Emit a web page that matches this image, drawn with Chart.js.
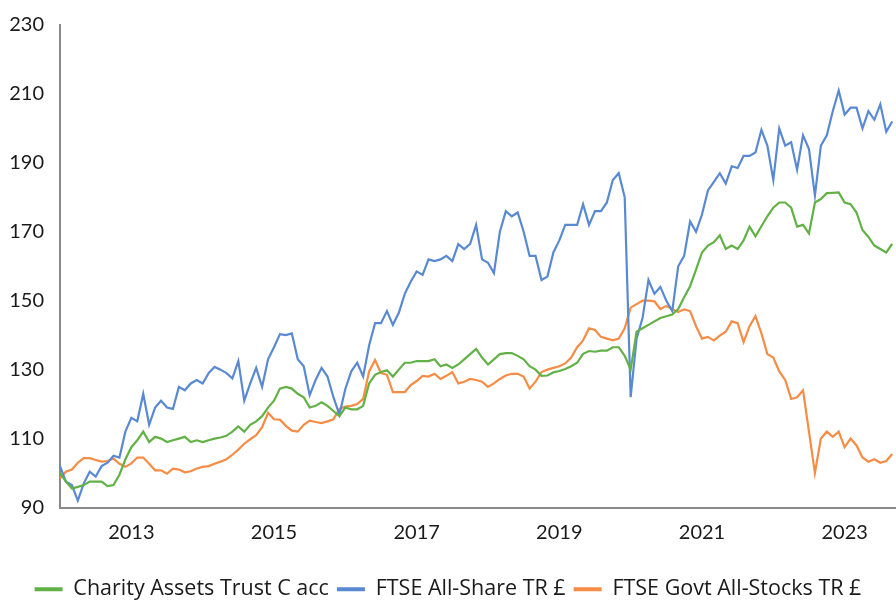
<!DOCTYPE html>
<html>
<head>
<meta charset="utf-8">
<script src="https://cdn.jsdelivr.net/npm/chart.js@4.4.0/dist/chart.umd.min.js"></script>
<style>
  html, body { margin: 0; padding: 0; background: #fff; }
  #wrap { width: 896px; height: 601px; }
</style>
</head>
<body>
<div id="wrap"><canvas id="miGrafica" width="896" height="601"></canvas></div>
<script>
// monthly series, Jan 2012 onwards
var startYear = 2012;

var seriesNames = ['Charity Assets Trust C acc', 'FTSE All-Share TR £', 'FTSE Govt All-Stocks TR £'];
var seriesColors = ['#62b146', '#5a89d4', '#f68c45'];

var charity = [
  100, 97.5, 95.5, 96, 96.5, 97.5, 97.5, 97.5, 96.2, 96.5, 99.5, 104,
  107.5, 109.5, 112, 109, 110.5, 110, 109, 109.5, 110, 110.5, 109, 109.5,
  109, 109.5, 110, 110.3, 110.8, 112, 113.5, 112, 114, 115, 116.5, 119,
  121, 124.5, 125, 124.5, 123, 122, 119, 119.5, 120.5, 119.5, 118, 116.5,
  119, 118.5, 118.5, 119.5, 126, 128.5, 129.3, 129.8, 128, 130, 132, 132,
  132.5, 132.5, 132.5, 133, 131, 131.5, 130.5, 131.5, 133, 134.5, 136, 133.5,
  131.5, 133, 134.5, 134.8, 134.8, 134, 133, 131, 130, 128.2, 128.3, 129.2,
  129.6, 130.2, 131, 132, 134.6, 135.4, 135.2, 135.5, 135.5, 136.5, 136.5, 134,
  130, 141, 142, 143, 144, 145, 145.5, 146, 147.6, 151, 154.2, 159,
  164, 166, 167, 169, 165, 166, 165, 167.5, 171.5, 168.7, 171.6, 174.5,
  177, 178.5, 178.5, 177, 171.5, 172, 169.5, 178.5, 179.5, 181.2, 181.3, 181.4,
  178.5, 178, 175.6, 170.5, 168.5, 166, 165, 164, 166.5
];

var allShare = [
  102, 97.5, 96.5, 92, 97, 100.4, 99, 102, 103, 105, 104.5, 112,
  116, 115, 123, 114, 119, 121, 119, 118.6, 125, 124, 126, 127,
  126, 129, 130.8, 130, 129, 127.5, 132.5, 121, 126, 130.5, 125, 133,
  136.5, 140.3, 140, 140.5, 133, 131, 122.6, 127, 130.5, 128, 122, 117,
  124.4, 129.5, 132, 128, 137, 143.5, 143.5, 147, 143, 146.5, 152, 155.5,
  158.5, 157.5, 162, 161.5, 162, 163, 161.5, 166.4, 165, 166.5, 172, 162,
  161, 158, 170, 176, 174.5, 175.6, 170, 163, 163, 156, 157, 164,
  167.5, 172, 172, 172, 178, 172, 176, 176, 178.5, 185, 187, 180,
  122, 139, 145, 156, 152, 154, 150, 147, 160, 163, 173, 170,
  175, 182, 184.5, 187, 184, 189, 188.5, 192, 192, 193, 199.6, 195,
  185, 200, 195, 196, 188, 198, 194, 180.5, 195, 198, 205, 211,
  204, 206, 206, 200, 205, 202.5, 207, 199, 202
];

var govtStocks = [
  98.5, 100.4, 101, 103, 104.3, 104.3, 103.8, 103.3, 103.5, 104.2, 102.7, 101.8,
  102.8, 104.5, 104.5, 102.7, 100.8, 100.8, 99.8, 101.3, 101, 100.2, 100.5, 101.3,
  101.8, 102, 102.7, 103.3, 104, 105.3, 106.8, 108.5, 109.8, 111, 113.3, 117.5,
  115.6, 115.5, 113.7, 112.3, 112, 114, 115.2, 114.8, 114.5, 115, 115.6, 118.6,
  119.3, 119.5, 120, 121.5, 129.5, 132.8, 129, 128.5, 123.5, 123.5, 123.5, 125.5,
  126.7, 128.2, 128, 128.8, 127.3, 128.2, 129.3, 126, 126.5, 127.3, 127, 126.5,
  125, 126, 127.3, 128.3, 128.8, 128.8, 128, 124.5, 126.5, 129.3, 130, 130.5,
  131, 131.8, 133.5, 136.5, 138.5, 142, 141.5, 139.5, 139, 138.5, 139, 142,
  148, 149, 150, 150, 149.8, 147.6, 148.5, 147.5, 146.7, 147.5, 147, 142.6,
  139, 139.5, 138.5, 139.9, 141, 144, 143.5, 138, 142.6, 145.5, 140.5, 134.5,
  133.5, 129.5, 127, 121.5, 122, 124, 112, 100, 110, 112, 110.5, 112,
  107.5, 110, 108, 104.5, 103.3, 104, 103, 103.5, 105.5
];

var yearTicks = [2013, 2015, 2017, 2019, 2021, 2023];
var valueTicks = [90, 110, 130, 150, 170, 190, 210, 230];

function toPoints(values) {
  return values.map(function (v, i) { return { x: startYear + i / 12, y: v }; });
}

var allSeries = [charity, allShare, govtStocks];
var datasets = allSeries.map(function (vals, k) {
  return {
    label: seriesNames[k],
    data: toPoints(vals),
    borderColor: seriesColors[k],
    backgroundColor: seriesColors[k],
    borderWidth: 2.2,
    pointRadius: 0,
    tension: 0,
    fill: false
  };
});

var fuente = "Lato, 'Noto Sans', sans-serif";
var fuenteLeyenda = "'Open Sans', 'Noto Sans', sans-serif";
var axisGrey = '#8a8a8a';

var ctx = document.getElementById('miGrafica').getContext('2d');
var chart = new Chart(ctx, {
  type: 'line',
  data: { datasets: datasets },
  options: {
    responsive: false,
    animation: false,
    layout: { padding: { top: 25, bottom: -9, left: 0, right: 0 } },
    scales: {
      x: {
        type: 'linear',
        min: 2012,
        max: 2023.72,
        grid: { display: false, drawTicks: false, tickLength: 0 },
        border: { display: true, color: axisGrey, width: 2 },
        afterBuildTicks: function (scale) {
          scale.ticks = yearTicks.map(function (v) { return { value: v }; });
        },
        afterFit: function (scale) {
          scale.height = 63;
          scale.paddingLeft = 0;
          scale.paddingRight = 0;
        },
        ticks: {
          autoSkip: false,
          maxRotation: 0,
          padding: 13,
          color: '#1a1a1a',
          font: { family: fuente, size: 20 },
          callback: function (v) { return String(v); }
        }
      },
      y: {
        min: 90,
        max: 230,
        grid: { display: false, drawTicks: false, tickLength: 0 },
        border: { display: true, color: axisGrey, width: 2 },
        afterBuildTicks: function (scale) {
          scale.ticks = valueTicks.map(function (v) { return { value: v }; });
        },
        afterFit: function (scale) {
          scale.width = 60;
          scale.paddingTop = 0;
          scale.paddingBottom = 0;
        },
        ticks: {
          padding: 16,
          color: '#1a1a1a',
          font: { family: fuente, size: 20 }
        }
      }
    },
    plugins: {
      tooltip: { enabled: false },
      legend: {
        position: 'bottom',
        labels: {
          usePointStyle: true,
          pointStyle: 'line',
          pointStyleWidth: 28,
          padding: 8,
          color: '#1a1a1a',
          font: { family: fuenteLeyenda, size: 21.5 },
          generateLabels: function (c) {
            var items = Chart.defaults.plugins.legend.labels.generateLabels(c);
            items.forEach(function (it) { it.lineWidth = 4; });
            return items;
          }
        }
      }
    }
  }
});
</script>
</body>
</html>
